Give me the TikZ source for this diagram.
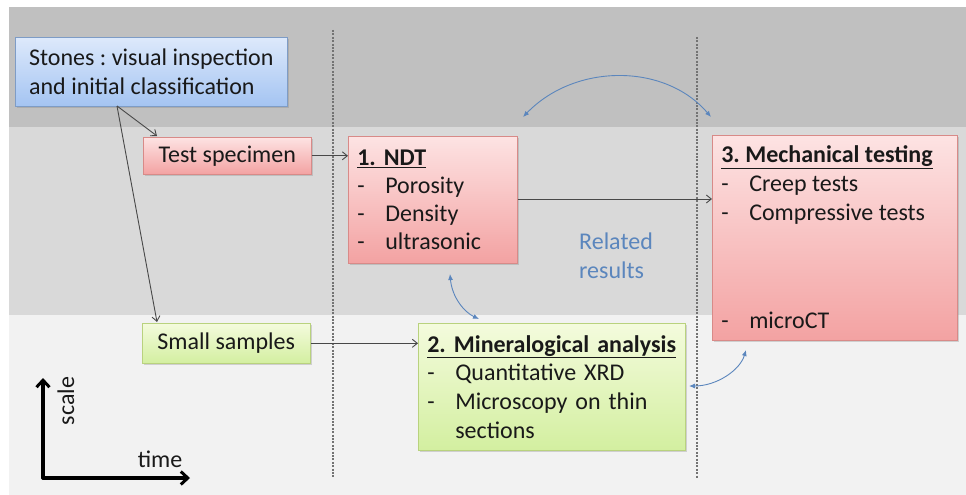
\documentclass[tikz,border=0pt]{standalone}
\usepackage{fontspec}
\setmainfont{Carlito}
\usetikzlibrary{arrows.meta,shadows}

\definecolor{bandA}{HTML}{C0C0C0}
\definecolor{bandB}{HTML}{D9D9D9}
\definecolor{bandC}{HTML}{F2F2F2}
\definecolor{blueTop}{HTML}{DDE9FB}
\definecolor{blueBot}{HTML}{A4C4F2}
\definecolor{blueLine}{HTML}{7E9CC6}
\definecolor{redTop}{HTML}{FDE3E3}
\definecolor{redBot}{HTML}{F3A2A2}
\definecolor{redLine}{HTML}{D88A88}
\definecolor{greenTop}{HTML}{F4FBDD}
\definecolor{greenBot}{HTML}{D3EFA0}
\definecolor{greenLine}{HTML}{B9D27E}
\definecolor{linkBlue}{HTML}{5B86BD}
\definecolor{flowLine}{HTML}{484848}

\newcommand{\itm}[1]{\makebox[28pt][l]{-}#1}

\tikzset{
  x=1pt, y=-1pt,
  every node/.style={font=\fontsize{24}{29}\selectfont, text=black!90},
  box/.style={draw, line width=0.6pt, rectangle, anchor=north west,
    align=left, inner xsep=10pt, inner ysep=0pt,
    drop shadow={shadow xshift=1.2pt, shadow yshift=-1.6pt, opacity=0.3}},
  bluebox/.style={box, draw=blueLine, top color=blueTop, bottom color=blueBot},
  redbox/.style={box, draw=redLine, top color=redTop, bottom color=redBot},
  greenbox/.style={box, draw=greenLine, top color=greenTop, bottom color=greenBot},
  flow/.style={draw=flowLine, line width=0.9pt, -{Straight Barb[length=5pt,width=8pt]}},
  link/.style={draw=linkBlue, line width=0.9pt,
    {Latex[length=6pt,width=5pt]}-{Latex[length=6pt,width=5pt]}},
  phase/.style={draw=black!55, line width=1.7pt, dash pattern=on 2pt off 1.4pt},
  scaleaxis/.style={draw=black, line width=3.2pt, line cap=round,
    -{Straight Barb[length=7pt,width=13pt,line width=3pt]}}
}

\begin{document}
\frenchspacing
\begin{tikzpicture}
  % page frame and the three grey bands
  \useasboundingbox (0,0) rectangle (966,495);
  \fill[bandA] (9,7) rectangle (966,127);
  \fill[bandB] (9,127) rectangle (966,315);
  \fill[bandC] (9,315) rectangle (966,495);

  % phase separators
  \draw[phase] (333,30) -- (333,478);
  \draw[phase] (697,37) -- (697,478);

  % boxes
  \node[bluebox, minimum width=272pt, minimum height=69pt, inner xsep=13pt] (stones) at (15,37)
    {Stones : visual inspection\\and initial classification};
  \node[redbox, minimum width=168pt, minimum height=37pt, inner xsep=9pt] (spec) at (143,137)
    {Test specimen};
  \node[greenbox, minimum width=168pt, minimum height=40pt, inner xsep=10pt] (small) at (142,323)
    {Small samples};
  \node[redbox, minimum width=169pt, minimum height=127pt, text width=151pt, inner xsep=9pt] (ndt) at (348,136)
    {\textbf{\underline{1. NDT}}\\[-1pt]\itm{Porosity}\\[-1pt]\itm{Density}\\[-1pt]\itm{ultrasonic}};
  % tall box: contents hang from the top edge
  \node[redbox, minimum width=245pt, minimum height=205pt, inner xsep=9pt] (mech) at (712,135)
    {\parbox[c][205pt][t]{227pt}{\raggedright
      \rule{0pt}{27pt}\textbf{\underline{3. Mechanical testing}}\\
      \itm{Creep tests}\\
      \itm{Compressive tests}\\[79pt]
      \itm{microCT}}};
  \node[greenbox, minimum width=267pt, minimum height=127pt, text width=249pt, inner xsep=9pt] (mine) at (418,323)
    {\textbf{\underline{2. Mineralogical analysis}}\\[-1pt]\itm{Quantitative XRD}\\\itm{Microscopy on thin}\\\makebox[28pt]{}sections};

  % label between the phases
  \node[text=linkBlue, align=left] (rel) at (616,256) {Related\\results};

  % flow arrows
  \coordinate (fork) at (117,106);
  \draw[flow] (fork) -- (157,136);
  \draw[flow] (fork) -- (157,322);
  \draw[flow] (spec.east) -- (ndt.west |- spec.east);
  \draw[flow] (ndt.east |- 0,199) -- (mech.west |- 0,199);
  \draw[flow] (small.east) -- (mine.west |- small.east);

  % cross-links between results
  \coordinate (ndtTop) at (523,117);
  \coordinate (mechTop) at (711,117);
  \draw[link] (ndtTop) .. controls (575,63) and (665,63) .. (mechTop);
  \coordinate (ndtLow) at (450,274);
  \coordinate (mineTop) at (479,319);
  \draw[link] (ndtLow) .. controls (452,297) and (464,312) .. (mineTop);
  \coordinate (mineRight) at (689,386);
  \coordinate (mechLow) at (746,350);
  \draw[link] (mineRight) .. controls (717,386) and (740,370) .. (mechLow);

  % scale / time axes
  \coordinate (origin) at (43,478);
  \draw[scaleaxis] (origin) -- (43,378);
  \draw[scaleaxis] (origin) -- (190,478);
  \node[rotate=90] (scl) at (66,401) {scale};
  \node (tim) at (160,459) {time};
\end{tikzpicture}
\end{document}
